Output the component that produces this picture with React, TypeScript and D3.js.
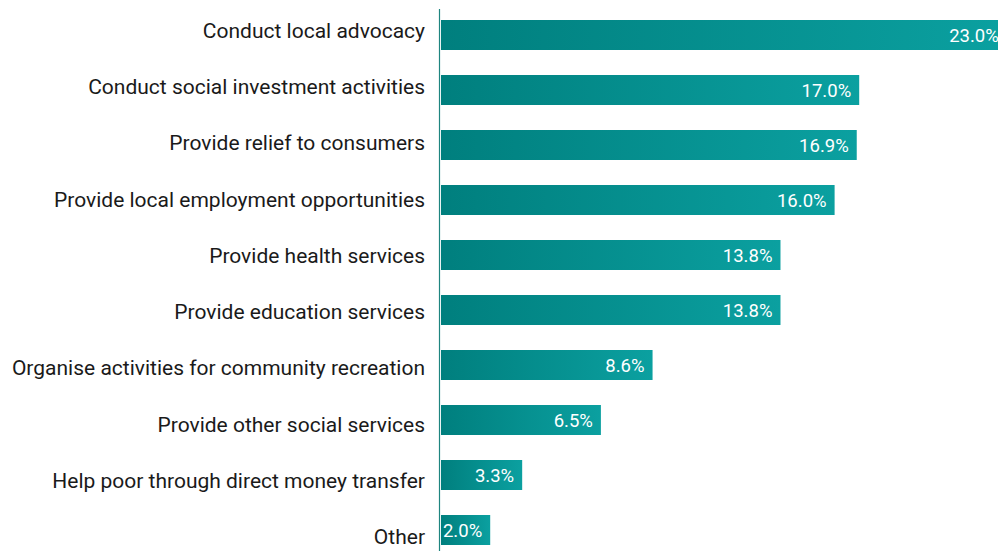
import React from "react";
import * as d3 from "d3";

const categories = [
  "Conduct local advocacy",
  "Conduct social investment activities",
  "Provide relief to consumers",
  "Provide local employment opportunities",
  "Provide health services",
  "Provide education services",
  "Organise activities for community recreation",
  "Provide other social services",
  "Help poor through direct money transfer",
  "Other",
];
const values = [23.0, 17.0, 16.9, 16.0, 13.8, 13.8, 8.6, 6.5, 3.3, 2.0];

const W = 998;
const H = 551;
const axisX = 440;
const barX0 = 441;

export default function App() {
  const x = d3.scaleLinear().domain([0, 10]).range([barX0, barX0 + 246]);
  const y = d3
    .scaleBand<number>()
    .domain(d3.range(categories.length))
    .range([20, 545])
    .paddingInner(25 / 55)
    .paddingOuter(0);
  // category labels sit on a slightly wider pitch than the bars
  const yLabel = d3.scaleLinear().domain([0, categories.length - 1]).range([31, 537]);
  const font = "Roboto, 'Open Sans', sans-serif";

  return (
    <svg
      width={W}
      height={H}
      style={{ position: "absolute", left: 0, top: 0, display: "block" }}
    >
      <defs>
        <linearGradient id="barGrad" x1="0" x2="1" y1="0" y2="0">
          <stop offset="0%" stopColor="#007f7e" />
          <stop offset="100%" stopColor="#0ba0a0" />
        </linearGradient>
      </defs>
      <rect width={W} height={H} fill="#ffffff" />
      {values.map((v, i) => {
        const bx = x(0);
        const bw = x(v) - x(0);
        const by = y(i)!;
        const bh = y.bandwidth();
        return (
          <g key={categories[i]}>
            <rect x={bx} y={by} width={bw} height={bh} fill="url(#barGrad)" />
            <text
              x={x(v) - 8}
              y={by + bh / 2 + 1}
              textAnchor="end"
              dominantBaseline="central"
              fill="#ffffff"
              fontFamily={font}
              fontSize={18.5}
            >
              {v.toFixed(1)}%
            </text>
            <text
              x={425}
              y={yLabel(i)}
              textAnchor="end"
              dominantBaseline="central"
              fill="#1a1a1a"
              fontFamily={font}
              fontSize={21}
            >
              {categories[i]}
            </text>
          </g>
        );
      })}
      <line x1={axisX - 0.5} x2={axisX - 0.5} y1={9} y2={H} stroke="#1f8580" strokeWidth={1.2} />
    </svg>
  );
}
